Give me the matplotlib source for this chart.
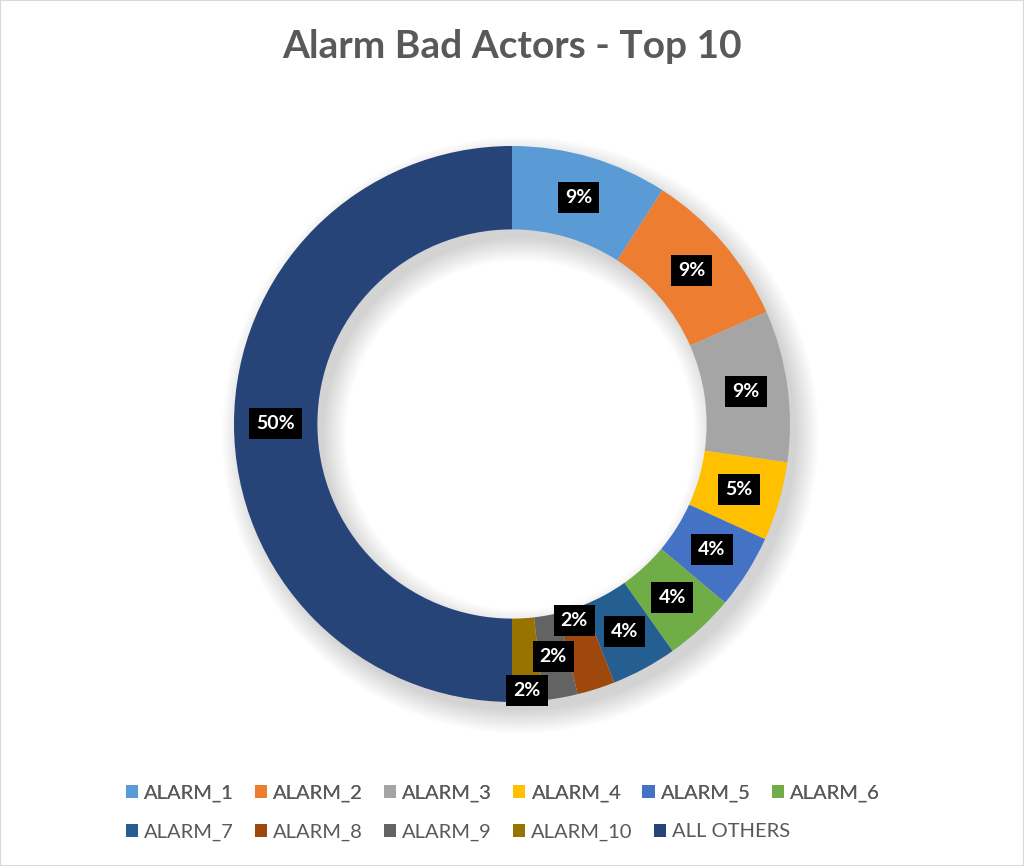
"""Donut chart: alarm bad actors, top 10."""
import matplotlib

matplotlib.use("Agg")
import matplotlib.pyplot as plt
import numpy as np
from matplotlib.patches import Wedge, Rectangle

plt.rcParams["font.family"] = ["Lato", "DejaVu Sans"]

categories = ["ALARM_1", "ALARM_2", "ALARM_3", "ALARM_4", "ALARM_5", "ALARM_6",
              "ALARM_7", "ALARM_8", "ALARM_9", "ALARM_10", "ALL OTHERS"]
shares = [9.1, 9.3, 8.8, 4.6, 4.3, 4.1, 3.8, 2.2, 2.0, 1.8, 50.0]
colors = ["#5B9BD5", "#ED7D31", "#A5A5A5", "#FFC000", "#4472C4", "#70AD47",
          "#255E91", "#9E480E", "#636363", "#997300", "#264478"]
# radial position of each data label (Excel nudged the tiny ones)
label_r = [0.85, 0.85, 0.85, 0.85, 0.85, 0.85, 0.85, 0.74, 0.85, 0.96, 0.85]

W, H = 1024, 866
fig = plt.figure(figsize=(W / 100, H / 100), dpi=100)
fig.patches.append(Rectangle((0, 0), 1, 1, transform=fig.transFigure,
                             fill=False, edgecolor="#d9d9d9", lw=1.5))

cx, cy, R = 512, 424, 278
ax = fig.add_axes([(cx - R) / W, (H - cy - R) / H, 2 * R / W, 2 * R / H])
ring = 0.30

# soft drop shadow (stacked faint rings, offset down-right)
for i in range(22):
    g = 0.004 * i
    ax.add_patch(Wedge((0.03, -0.04), 0.99 + g, 0, 360, width=ring - 0.02 + 2 * g,
                       facecolor="black", alpha=0.0065, lw=0, clip_on=False))

wedges, _ = ax.pie(shares, colors=colors, startangle=90, counterclock=False,
                   radius=1, wedgeprops=dict(width=ring, linewidth=0))
ax.set_xlim(-1, 1)
ax.set_ylim(-1, 1)
ax.set_aspect("equal")
ax.axis("off")

for w, val, r in zip(wedges, shares, label_r):
    ang = np.deg2rad((w.theta1 + w.theta2) / 2)
    ax.text(r * np.cos(ang), r * np.sin(ang), f"{val:.0f}%", ha="center", va="center",
            color="white", fontsize=14, fontweight="bold", zorder=5,
            bbox=dict(boxstyle="square,pad=0.36", facecolor="black", edgecolor="none"))

fig.text(0.5, 1 - 47 / H, "Alarm Bad Actors - Top 10", ha="center", va="center",
         fontsize=28, fontweight="bold", color="#595959")

leg_kw = dict(frameon=False, fontsize=14.5, handlelength=0.6, handleheight=0.6,
              handletextpad=0.3, columnspacing=1.05, borderpad=0, borderaxespad=0,
              labelcolor="#595959", loc="center left")
leg1 = fig.legend(wedges[:6], categories[:6], ncol=6,
                  bbox_to_anchor=(126 / W, 1 - 793 / H), **leg_kw)
fig.add_artist(leg1)
fig.legend(wedges[6:], categories[6:], ncol=5,
           bbox_to_anchor=(126 / W, 1 - 832 / H), **leg_kw)

fig.savefig("out.png", dpi=100)
